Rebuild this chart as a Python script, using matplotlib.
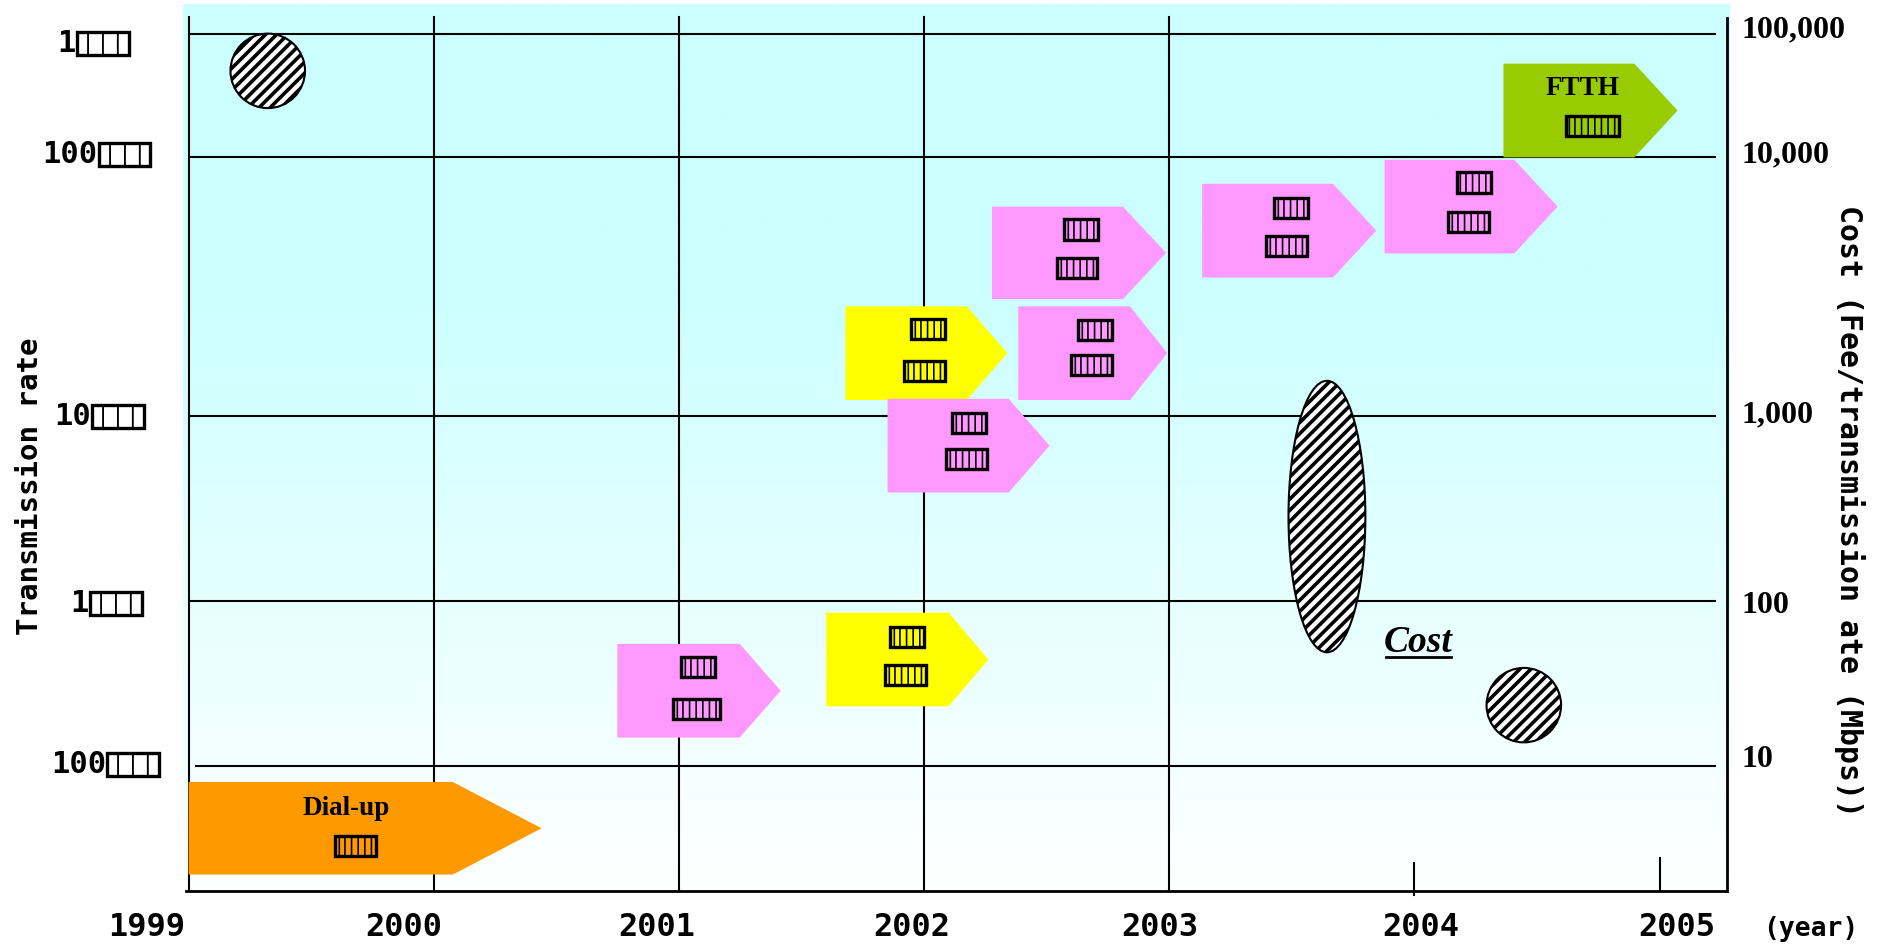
import numpy as np
import matplotlib
matplotlib.use("Agg")
import matplotlib.pyplot as plt
from matplotlib.patches import Polygon, Ellipse
from matplotlib import font_manager

# ---------------- data ----------------
years_full_grid = [1999, 2000, 2001, 2002, 2003]
years_short_tick = [2004, 2005]
year_labels = ["1999", "2000", "2001", "2002", "2003", "2004", "2005"]
year_label_x = [1998.829, 1999.877, 2000.910, 2001.948, 2002.962, 2004.025, 2005.068]

cost_labels = ["100,000", "10,000", "1,000", "100", "10"]
cost_grid_levels = [714, 611, 396, 242, 104]
cost_label_levels = [717, 613, 397, 238, 110]

rate_digits = ["1", "100", "10", "1", "100"]
rate_levels = [706, 613, 395, 240, 106]
rate_box_x = [1998.545, 1998.633, 1998.608, 1998.597, 1998.667]

arrow_start = [1999.000, 2000.749, 2001.601, 2001.679, 2001.851, 2002.384, 2002.277, 2003.134, 2003.878, 2004.363]
arrow_body_end = [2000.078, 2001.248, 2002.100, 2002.174, 2002.345, 2002.840, 2002.811, 2003.668, 2004.407, 2004.897]
arrow_tip = [2000.440, 2001.415, 2002.262, 2002.340, 2002.512, 2002.992, 2002.987, 2003.844, 2004.584, 2005.073]
arrow_low = [14, 128, 154, 409, 332, 409, 493, 511, 531, 611]
arrow_high = [91, 206, 232, 487, 410, 487, 570, 589, 609, 689]
arrow_colors = ["#FF9900", "#FF99FF", "#FFFF00", "#FFFF00", "#FF99FF",
                "#FF99FF", "#FF99FF", "#FF99FF", "#FF99FF", "#99CC00"]
arrow_titles = ["Dial-up", "", "", "", "", "", "", "", "", "FTTH"]
title_x = [1999.642, 0, 0, 0, 0, 0, 0, 0, 0, 2004.687]
title_y = [69, 0, 0, 0, 0, 0, 0, 0, 0, 668]

tofu_x = [1999.681, 2001.077, 2001.072, 2001.929, 2001.924, 2002.017, 2002.002,
          2002.184, 2002.174, 2002.698, 2002.683, 2002.639, 2002.624,
          2003.496, 2003.477, 2004.241, 2004.221, 2004.726]
tofu_y = [38, 187, 152, 212, 180, 468, 433, 390, 360, 467, 438, 551, 519,
          569, 537, 590, 557, 637]
tofu_n = [6, 5, 7, 5, 6, 5, 6, 5, 6, 5, 6, 5, 6, 5, 6, 5, 6, 8]

hatch_x = [1999.323, 2003.643, 2004.446]
hatch_y = [683, 312, 155]
hatch_w = [0.304, 0.3135, 0.304]
hatch_h = [62, 226, 62]

# ---------------- fonts ----------------
names = {f.name for f in font_manager.fontManager.ttflist}
def pick(cands, default="DejaVu Sans"):
    for c in cands:
        if c in names:
            return c
    return default

SQ = pick(["DejaVu Sans Mono", "Liberation Mono"])
SERIF = pick(["Liberation Serif", "DejaVu Serif"])
plt.rcParams["hatch.linewidth"] = 2.6

# ---------------- figure ----------------
fig = plt.figure(figsize=(18.83, 9.49), dpi=100)
ax = fig.add_axes([152 / 1568, 1 - 742 / 790, 1288 / 1568, 739 / 790])
XMIN, XMAX = 1998.9755, 2005.2840
YMIN, YMAX = 0, 739
ax.set_xlim(XMIN, XMAX)
ax.set_ylim(YMIN, YMAX)
ax.axis("off")

# gradient background
lev = np.linspace(YMAX, YMIN, 400)
t = np.clip((492 - lev) / 492, 0, 1)
top = np.array([0xCC, 0xFF, 0xFF]) / 255
bot = np.array([0xFF, 0xFF, 0xFF]) / 255
grad = top[None, :] * (1 - t[:, None]) + bot[None, :] * t[:, None]
grad = np.repeat(grad[:, None, :], 2, axis=1)
ax.imshow(grad, extent=[XMIN, XMAX, YMIN, YMAX], aspect="auto", zorder=0,
          interpolation="bilinear")

LW = 1.5
# horizontal grid lines
for lvl in cost_grid_levels:
    x0 = 1999.025 if lvl == min(cost_grid_levels) else 1999.0
    ax.plot([x0, 2005.23], [lvl, lvl], color="black", lw=LW, zorder=1,
            solid_capstyle="butt")
# vertical grid lines
for yr in years_full_grid:
    ax.plot([yr, yr], [0, 728], color="black", lw=LW, zorder=1)
for yr, (a, b) in zip(years_short_tick, [(-3, 24), (0, 28)]):
    ax.plot([yr, yr], [a, b], color="black", lw=LW, zorder=1, clip_on=False)
# frame (bottom and right)
ax.plot([1998.99, 2005.274], [0, 0], color="black", lw=2, zorder=3, clip_on=False)
ax.plot([2005.274, 2005.274], [0, 727], color="black", lw=2, zorder=3, clip_on=False)

# arrows
for i in range(len(arrow_start)):
    yc = (arrow_low[i] + arrow_high[i]) / 2
    pts = [(arrow_start[i], arrow_low[i]), (arrow_body_end[i], arrow_low[i]),
           (arrow_tip[i], yc), (arrow_body_end[i], arrow_high[i]),
           (arrow_start[i], arrow_high[i])]
    ax.add_patch(Polygon(pts, closed=True, facecolor=arrow_colors[i],
                         edgecolor="none", zorder=2))
    if arrow_titles[i]:
        ax.text(title_x[i], title_y[i], arrow_titles[i], family=SERIF,
                weight="bold", fontsize=19.5, ha="center", va="center", zorder=4)

# tofu-like glyph boxes
for x, y, n in zip(tofu_x, tofu_y, tofu_n):
    ax.text(x, y, "|" * n, family="DejaVu Sans", fontsize=14, ha="center",
            va="center", zorder=4,
            bbox=dict(boxstyle="square,pad=0.02", fc="none", ec="black", lw=2.4))

# hatched ellipses
for x, y, w, h in zip(hatch_x, hatch_y, hatch_w, hatch_h):
    ax.add_patch(Ellipse((x, y), w, h, facecolor="white", edgecolor="black",
                         hatch="///", lw=1.5, zorder=3))

# Cost label with underline
cost_txt = ax.text(2004.015, 207, "Cost", family=SERIF, weight="bold",
                   style="italic", fontsize=27, ha="center", va="center", zorder=4)

# right axis labels
for lab, lvl in zip(cost_labels, cost_label_levels):
    ax.text(2005.333, lvl, lab, family=SERIF, weight="bold", fontsize=23,
            ha="left", va="center", clip_on=False)

# left axis labels (digits + glyph box)
for d, lvl, bx in zip(rate_digits, rate_levels, rate_box_x):
    ax.text(bx - 0.004, lvl, d, family=SQ, weight="bold", fontsize=22,
            ha="right", va="center", clip_on=False)
    ax.text(bx, lvl, " | | | ", family="DejaVu Sans", fontsize=16.5,
            ha="left", va="center", clip_on=False,
            bbox=dict(boxstyle="square,pad=0", fc="none", ec="black", lw=2.4))

# year labels
for lab, x in zip(year_labels, year_label_x):
    ax.text(x, -30, lab, family=SQ, weight="bold", fontsize=23, ha="center",
            va="center", clip_on=False)
ax.text(2005.617, -31, "(year)", family=SQ, weight="bold", fontsize=19,
        ha="center", va="center", clip_on=False)

# axis titles
fig.text(25 / 1568, 1 - 405 / 790, "Transmission rate", family=SQ, weight="bold",
         fontsize=21, rotation=90, ha="center", va="center")
fig.text(1540 / 1568, 1 - 425 / 790, "Cost (Fee/transmission ate (Mbps))",
         family=SQ, weight="bold", fontsize=21.5, rotation=-90, ha="center",
         va="center")

# underline for Cost
fig.canvas.draw()
bb = cost_txt.get_window_extent(fig.canvas.get_renderer())
inv = ax.transData.inverted()
(ux0, uy0), (ux1, _) = inv.transform([(bb.x0 + 2, bb.y0 + 3), (bb.x1 - 2, bb.y0)])
ax.plot([ux0, ux1], [uy0, uy0], color="black", lw=2, zorder=4)

fig.savefig("out.png", dpi=100)
